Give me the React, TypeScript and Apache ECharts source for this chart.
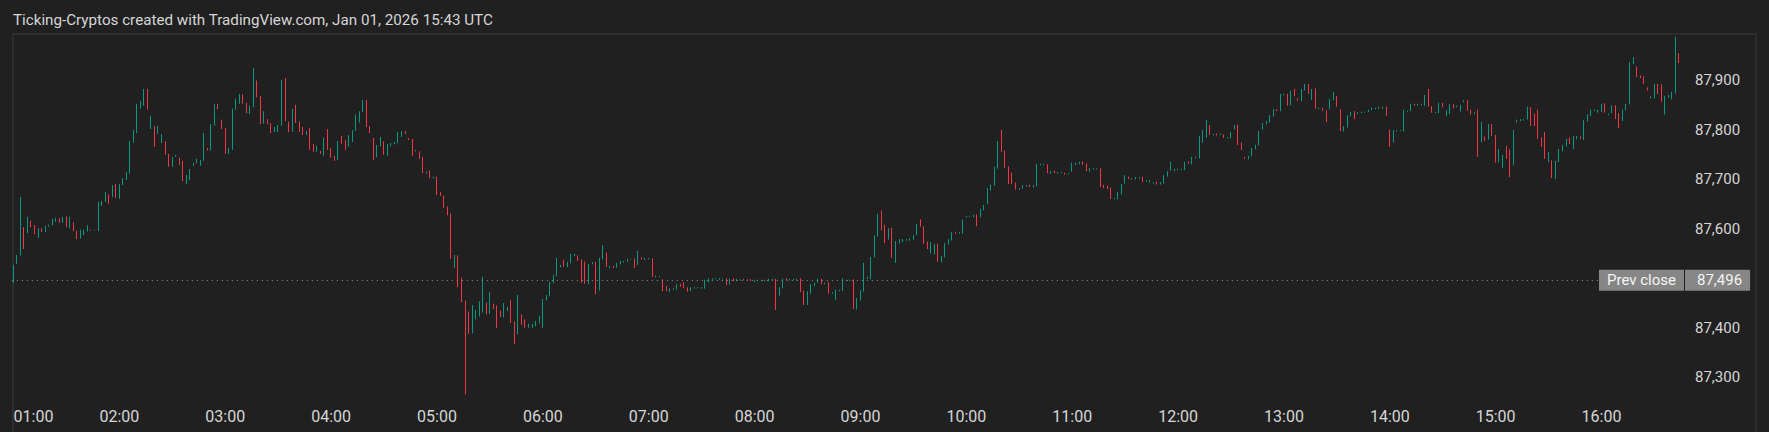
import React, { useEffect, useRef } from "react";
import * as echarts from "echarts";

const TITLE = "Ticking-Cryptos created with TradingView.com, Jan 01, 2026 15:43 UTC";
const START_MINUTE = 60; // 01:00
const STEP_MINUTES = 2;
const SLOT_COUNT = 475;
const HOUR_EVERY = 30;
const PREV_CLOSE = 87496;
const Y_MIN = 87200;
const Y_MAX = 88000;
const Y_STEP = 100;

const opens = [
  87491,87530,87548,87603,87592,87614,87606,87590,87598,87595,
  87605,87608,87618,87620,87613,87624,87602,87612,87595,87581,
  87595,87595,87598,87596,87596,87652,87655,87668,87665,87688,
  87662,87689,87700,87712,87775,87797,87850,87855,87880,87818,
  87806,87793,87775,87775,87750,87726,87746,87742,87730,87696,
  87700,87728,87733,87728,87738,87762,87759,87809,87850,87819,
  87802,87752,87760,87841,87860,87870,87853,87833,87846,87898,
  87854,87813,87820,87812,87796,87804,87808,87900,87815,87797,
  87845,87815,87797,87790,87801,87770,87756,87756,87749,87800,
  87760,87745,87739,87785,87778,87766,87785,87798,87815,87836,
  87858,87806,87782,87745,87767,87775,87750,87767,87771,87773,
  87786,87796,87782,87780,87757,87755,87744,87712,87713,87702,
  87704,87672,87666,87644,87630,87524,87545,87500,87454,87432,
  87390,87418,87424,87432,87450,87430,87448,87444,87434,87422,
  87435,87436,87412,87388,87426,87416,87401,87402,87404,87410,
  87410,87456,87465,87491,87505,87523,87525,87523,87531,87547,
  87545,87537,87533,87489,87529,87531,87476,87539,87551,87521,
  87524,87522,87529,87533,87534,87537,87539,87528,87541,87539,
  87539,87539,87503,87503,87497,87483,87476,87479,87478,87488,
  87484,87481,87475,87480,87480,87480,87480,87493,87498,87498,
  87498,87498,87499,87488,87499,87495,87497,87498,87497,87497,
  87493,87494,87495,87495,87495,87497,87498,87466,87481,87498,
  87497,87497,87497,87499,87473,87447,87470,87485,87492,87495,
  87489,87490,87470,87470,87475,87475,87496,87496,87497,87438,
  87456,87474,87499,87499,87543,87585,87636,87607,87579,87601,
  87533,87571,87575,87577,87577,87579,87588,87618,87604,87573,
  87551,87549,87569,87533,87543,87569,87577,87593,87591,87591,
  87624,87624,87624,87628,87624,87638,87650,87678,87688,87722,
  87776,87757,87725,87712,87692,87680,87682,87686,87688,87684,
  87686,87729,87730,87729,87712,87716,87713,87712,87712,87710,
  87716,87729,87731,87735,87731,87716,87720,87720,87721,87687,
  87686,87682,87661,87660,87670,87692,87704,87701,87700,87703,
  87704,87697,87694,87693,87694,87690,87692,87706,87718,87717,
  87719,87720,87719,87735,87731,87744,87743,87775,87785,87806,
  87790,87791,87789,87789,87784,87783,87801,87809,87773,87744,
  87741,87747,87761,87769,87801,87811,87815,87827,87840,87838,
  87870,87871,87850,87876,87862,87858,87880,87891,87868,87882,
  87843,87842,87838,87842,87860,87866,87840,87797,87805,87828,
  87836,87832,87834,87834,87836,87840,87843,87843,87844,87845,
  87799,87775,87797,87797,87797,87836,87838,87851,87849,87850,
  87849,87869,87846,87835,87834,87853,87828,87832,87850,87846,
  87847,87856,87858,87839,87832,87838,87775,87785,87781,87810,
  87788,87735,87724,87752,87759,87729,87815,87818,87819,87821,
  87844,87830,87828,87783,87777,87735,87737,87701,87735,87757,
  87767,87783,87764,87781,87785,87781,87817,87828,87838,87836,
  87840,87852,87830,87834,87848,87832,87818,87840,87852,87933,
  87926,87908,87906,87884,87864,87864,87891,87890,87856,87866,
  87862,87874,87953,
];

const highs = [
  87527,87547,87664,87603,87624,87616,87607,87601,87601,87606,
  87608,87620,87622,87621,87624,87625,87624,87613,87596,87598,
  87598,87607,87598,87598,87654,87656,87674,87669,87688,87690,
  87690,87702,87714,87777,87799,87852,87858,87882,87882,87828,
  87807,87807,87791,87776,87751,87745,87749,87743,87737,87708,
  87720,87733,87741,87739,87793,87763,87811,87851,87852,87820,
  87803,87763,87842,87862,87872,87871,87854,87848,87924,87899,
  87868,87837,87821,87813,87805,87809,87900,87904,87816,87842,
  87850,87816,87805,87797,87803,87771,87767,87757,87783,87801,
  87763,87747,87777,87787,87779,87789,87799,87830,87837,87860,
  87860,87807,87783,87769,87785,87776,87771,87773,87775,87795,
  87797,87797,87783,87781,87759,87756,87745,87715,87718,87705,
  87705,87674,87667,87645,87631,87547,87546,87501,87455,87433,
  87446,87436,87454,87503,87451,87472,87449,87445,87435,87450,
  87442,87456,87413,87466,87427,87417,87408,87408,87414,87424,
  87458,87466,87493,87507,87541,87527,87537,87533,87549,87549,
  87546,87538,87534,87529,87533,87533,87541,87567,87552,87525,
  87525,87531,87535,87535,87539,87539,87540,87555,87542,87541,
  87541,87540,87505,87505,87498,87484,87480,87480,87488,87489,
  87492,87482,87482,87482,87482,87482,87497,87500,87500,87500,
  87500,87500,87500,87499,87500,87499,87498,87499,87498,87498,
  87497,87497,87497,87497,87499,87499,87499,87482,87499,87500,
  87499,87499,87499,87500,87475,87474,87488,87491,87499,87499,
  87491,87492,87472,87477,87477,87500,87497,87497,87498,87460,
  87476,87531,87503,87543,87587,87630,87637,87608,87601,87602,
  87575,87579,87579,87579,87581,87587,87610,87619,87605,87574,
  87573,87569,87570,87545,87571,87579,87593,87594,87593,87618,
  87626,87626,87628,87629,87640,87648,87682,87689,87725,87777,
  87799,87758,87726,87713,87693,87682,87688,87688,87689,87688,
  87731,87731,87731,87730,87716,87717,87714,87714,87713,87712,
  87733,87733,87735,87736,87732,87722,87722,87722,87722,87688,
  87687,87683,87662,87674,87690,87708,87705,87702,87704,87704,
  87705,87698,87698,87694,87695,87694,87708,87716,87735,87721,
  87721,87721,87735,87736,87745,87745,87787,87799,87819,87809,
  87791,87792,87792,87790,87785,87795,87809,87810,87774,87745,
  87747,87763,87769,87797,87813,87817,87829,87842,87841,87872,
  87872,87872,87878,87882,87863,87882,87892,87892,87882,87883,
  87844,87844,87839,87862,87876,87868,87841,87807,87829,87836,
  87837,87835,87836,87836,87840,87844,87844,87846,87846,87846,
  87800,87799,87799,87799,87840,87838,87852,87852,87852,87852,
  87870,87882,87847,87836,87854,87854,87839,87852,87851,87848,
  87850,87859,87859,87840,87835,87840,87815,87786,87811,87811,
  87789,87761,87749,87767,87760,87799,87820,87821,87821,87846,
  87845,87832,87840,87784,87795,87755,87738,87737,87761,87769,
  87781,87784,87787,87787,87786,87819,87831,87840,87840,87840,
  87852,87853,87832,87848,87849,87833,87840,87852,87936,87946,
  87927,87909,87907,87885,87867,87892,87892,87891,87868,87870,
  87876,87987,87954,
];

const lows = [
  87490,87529,87546,87559,87591,87603,87589,87581,87593,87593,
  87604,87607,87614,87612,87612,87603,87601,87595,87579,87580,
  87587,87594,87596,87596,87595,87646,87654,87650,87664,87662,
  87660,87688,87698,87711,87774,87793,87842,87848,87840,87801,
  87765,87791,87773,87749,87725,87725,87745,87729,87696,87690,
  87698,87727,87732,87727,87737,87758,87758,87808,87841,87801,
  87751,87751,87759,87840,87852,87852,87833,87831,87845,87865,
  87811,87812,87811,87793,87795,87795,87807,87817,87795,87796,
  87813,87795,87789,87789,87759,87755,87755,87751,87747,87759,
  87743,87737,87738,87771,87759,87765,87775,87797,87814,87835,
  87805,87793,87739,87744,87766,87749,87747,87766,87770,87772,
  87785,87791,87779,87747,87756,87741,87712,87711,87702,87701,
  87668,87666,87642,87627,87539,87521,87482,87452,87266,87388,
  87389,87417,87423,87431,87427,87428,87438,87400,87422,87421,
  87434,87410,87367,87387,87406,87400,87400,87400,87403,87409,
  87400,87455,87464,87490,87504,87522,87523,87522,87530,87545,
  87535,87491,87489,87488,87528,87468,87475,87538,87523,87520,
  87521,87521,87528,87532,87533,87537,87521,87527,87538,87537,
  87538,87503,87502,87503,87474,87474,87472,87477,87477,87483,
  87480,87473,87474,87479,87480,87479,87479,87492,87497,87498,
  87497,87498,87486,87487,87494,87494,87495,87496,87496,87495,
  87492,87494,87494,87494,87494,87496,87436,87465,87480,87496,
  87496,87496,87496,87472,87446,87446,87469,87484,87491,87488,
  87488,87469,87469,87456,87474,87474,87494,87495,87438,87437,
  87455,87473,87498,87498,87542,87584,87597,87571,87578,87541,
  87531,87570,87573,87576,87576,87578,87587,87604,87569,87559,
  87550,87548,87533,87532,87542,87568,87576,87590,87590,87590,
  87623,87624,87623,87605,87623,87637,87649,87677,87687,87721,
  87755,87723,87690,87690,87679,87679,87681,87685,87684,87683,
  87685,87728,87728,87712,87711,87712,87711,87712,87709,87710,
  87715,87728,87730,87729,87716,87715,87719,87720,87684,87682,
  87680,87660,87659,87659,87669,87691,87700,87699,87699,87701,
  87694,87695,87693,87691,87689,87689,87691,87705,87717,87716,
  87718,87718,87718,87731,87730,87742,87742,87774,87784,87789,
  87788,87788,87789,87783,87782,87782,87800,87769,87759,87741,
  87740,87746,87760,87768,87800,87810,87814,87826,87837,87837,
  87869,87848,87849,87867,87858,87857,87879,87872,87860,87842,
  87841,87838,87815,87841,87859,87846,87797,87796,87804,87827,
  87821,87831,87833,87834,87835,87839,87841,87842,87842,87828,
  87765,87774,87796,87797,87796,87835,87837,87848,87848,87849,
  87848,87846,87834,87833,87833,87845,87827,87831,87843,87845,
  87836,87855,87838,87830,87831,87745,87774,87777,87780,87787,
  87733,87734,87722,87741,87704,87728,87814,87817,87818,87820,
  87807,87807,87781,87765,87741,87734,87702,87700,87734,87756,
  87766,87771,87761,87780,87781,87779,87816,87827,87837,87834,
  87836,87834,87829,87833,87821,87803,87817,87839,87851,87932,
  87906,87904,87892,87879,87863,87863,87872,87856,87830,87864,
  87861,87873,87934,
];

const closes = [
  87525,87547,87600,87590,87605,87604,87592,87600,87596,87605,
  87608,87619,87620,87618,87624,87604,87616,87606,87581,87597,
  87597,87606,87597,87597,87650,87655,87668,87665,87686,87664,
  87689,87700,87713,87775,87797,87850,87855,87878,87842,87825,
  87766,87796,87789,87750,87726,87744,87747,87730,87697,87702,
  87719,87732,87735,87738,87760,87759,87808,87846,87842,87802,
  87752,87762,87840,87860,87870,87853,87834,87846,87898,87866,
  87812,87824,87812,87794,87803,87808,87897,87830,87798,87840,
  87814,87796,87790,87796,87760,87756,87764,87752,87780,87760,
  87746,87738,87776,87772,87762,87787,87797,87818,87835,87858,
  87806,87794,87741,87768,87780,87750,87764,87772,87774,87789,
  87794,87792,87780,87760,87758,87743,87714,87714,87703,87704,
  87670,87667,87643,87628,87540,87545,87483,87453,87432,87390,
  87420,87420,87452,87455,87428,87445,87439,87430,87423,87445,
  87441,87412,87385,87460,87415,87401,87406,87404,87408,87412,
  87455,87465,87491,87506,87525,87526,87524,87532,87548,87548,
  87537,87532,87490,87527,87532,87478,87540,87550,87524,87524,
  87522,87529,87533,87534,87538,87538,87522,87540,87539,87540,
  87541,87504,87505,87504,87476,87475,87479,87480,87487,87484,
  87481,87474,87481,87481,87481,87481,87495,87499,87499,87499,
  87499,87499,87487,87497,87495,87498,87498,87497,87496,87495,
  87496,87496,87496,87496,87498,87499,87468,87481,87497,87497,
  87498,87499,87498,87473,87447,87473,87486,87490,87498,87490,
  87490,87470,87472,87476,87477,87498,87497,87497,87440,87458,
  87474,87500,87502,87541,87586,87624,87602,87572,87600,87543,
  87574,87578,87577,87578,87580,87586,87596,87605,87570,87560,
  87557,87567,87535,87544,87569,87577,87592,87591,87592,87616,
  87625,87625,87627,87617,87639,87647,87680,87688,87723,87775,
  87756,87725,87712,87691,87680,87681,87687,87688,87686,87687,
  87729,87730,87731,87713,87715,87713,87714,87713,87711,87711,
  87732,87732,87734,87730,87717,87721,87721,87721,87686,87683,
  87681,87661,87662,87673,87688,87707,87701,87702,87703,87704,
  87697,87698,87698,87694,87690,87693,87706,87715,87720,87720,
  87720,87721,87734,87733,87744,87745,87763,87797,87810,87790,
  87791,87790,87790,87784,87785,87794,87808,87771,87760,87742,
  87746,87762,87768,87795,87812,87814,87828,87840,87838,87870,
  87871,87849,87876,87868,87860,87880,87891,87873,87880,87843,
  87844,87840,87836,87860,87866,87847,87798,87806,87827,87835,
  87833,87834,87835,87835,87839,87843,87844,87845,87845,87829,
  87777,87797,87798,87798,87834,87838,87851,87849,87851,87851,
  87869,87848,87835,87836,87852,87846,87838,87851,87844,87847,
  87849,87858,87839,87834,87834,87776,87795,87783,87810,87788,
  87735,87747,87745,87742,87733,87796,87819,87820,87820,87844,
  87808,87808,87783,87770,87742,87754,87704,87735,87749,87768,
  87780,87772,87785,87786,87782,87817,87830,87838,87839,87839,
  87850,87835,87832,87846,87822,87810,87838,87851,87934,87934,
  87907,87905,87893,87880,87866,87891,87874,87858,87866,87867,
  87875,87985,87935,
];

const UP = "#089981";
const DOWN = "#f23645";
const BG = "#202020";
const TEXT = "#d6d6d6";
const FONT = "Roboto, 'Noto Sans', sans-serif";

const pad2 = (n: number) => (n < 10 ? "0" + n : String(n));
const timeLabel = (minute: number) => pad2(Math.floor(minute / 60)) + ":" + pad2(minute % 60);
const fmtPrice = (v: number) => v.toLocaleString("en-US");

export default function App() {
  const ref = useRef<HTMLDivElement>(null);

  useEffect(() => {
    if (!ref.current) return;
    const chart = echarts.init(ref.current, undefined, { renderer: "svg" });

    const categories = Array.from({ length: SLOT_COUNT }, (_, i) =>
      timeLabel(START_MINUTE + STEP_MINUTES * i)
    );
    const data = opens.map((o, i) => {
      const c = closes[i];
      return [o, c, Math.min(lows[i], o, c), Math.max(highs[i], o, c)];
    });

    const option: any = {
      animation: false,
      backgroundColor: BG,
      textStyle: { fontFamily: FONT },
      title: {
        text: TITLE,
        left: 13,
        top: 11,
        padding: 0,
        textStyle: { color: TEXT, fontSize: 15.2, fontWeight: "normal", fontFamily: FONT, lineHeight: 18 },
      },
      grid: {
        left: 11.8,
        right: 81,
        top: 30.4,
        height: 396.6,
        containLabel: false,
        outerBoundsMode: "none",
      },
      xAxis: {
        type: "category",
        data: categories,
        boundaryGap: true,
        axisLine: { show: false },
        axisTick: { show: false },
        splitLine: { show: false },
        axisLabel: {
          inside: true,
          margin: 11,
          verticalAlign: "middle",
          color: TEXT,
          fontSize: 16,
          fontFamily: FONT,
          alignMinLabel: "left",
          interval: (index: number) => index % HOUR_EVERY === 0,
        },
      },
      yAxis: {
        type: "value",
        position: "right",
        min: Y_MIN,
        max: Y_MAX,
        interval: Y_STEP,
        scale: true,
        axisLine: { show: false },
        axisTick: { show: false },
        splitLine: { show: false },
        axisLabel: {
          margin: 7,
          align: "left",
          color: TEXT,
          fontSize: 15,
          fontFamily: FONT,
          formatter: (v: number) => (v === Y_MIN || v === Y_MAX ? "" : fmtPrice(v)),
        },
      },
      series: [
        {
          type: "candlestick",
          data,
          barWidth: 1,
          itemStyle: {
            color: UP,
            color0: DOWN,
            borderColor: UP,
            borderColor0: DOWN,
            borderWidth: 1,
          },
          markLine: {
            silent: true,
            animation: false,
            symbol: ["none", "none"],
            lineStyle: { color: "#8e8e8e", type: [1, 4], width: 1 },
            label: {
              show: true,
              position: "end",
              distance: [-89, 1],
              formatter: () => `{a|Prev close}{s| }{b|${fmtPrice(PREV_CLOSE)}}`,
              rich: {
                a: {
                  backgroundColor: "#868686",
                  color: "#f4f4f4",
                  fontSize: 15,
                  fontFamily: FONT,
                  lineHeight: 15,
                  padding: [3, 8, 3, 8],
                },
                s: { width: 1, height: 21, lineHeight: 21, backgroundColor: BG, fontSize: 1 },
                b: {
                  backgroundColor: "#868686",
                  color: "#f4f4f4",
                  fontSize: 15,
                  fontFamily: FONT,
                  lineHeight: 15,
                  padding: [3, 8, 3, 12],
                },
              },
            },
            data: [{ yAxis: PREV_CLOSE }],
          },
        },
      ],
      graphic: [
        {
          type: "rect",
          silent: true,
          z: -1,
          shape: { x: 13, y: 34, width: 1743, height: 420 },
          style: { fill: "none", stroke: "#2d2d2d", lineWidth: 2 },
        },
      ],
    };

    chart.setOption(option);
    return () => chart.dispose();
  }, []);

  return (
    <div
      ref={ref}
      style={{ position: "fixed", left: 0, top: 0, width: 1769, height: 432 }}
    />
  );
}
